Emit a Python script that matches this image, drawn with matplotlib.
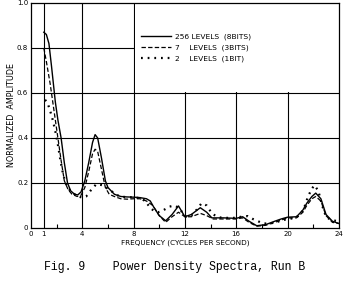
import matplotlib
matplotlib.use("Agg")
import matplotlib.pyplot as plt
from matplotlib.patches import Rectangle

# 256 levels (8 bits)
f256 = [1.0, 1.2, 1.4, 1.6, 1.9, 2.1, 2.35, 2.6, 2.85, 3.1, 3.4, 3.65, 3.9, 4.2, 4.5,
        4.8, 5.0, 5.2, 5.5, 5.8, 6.0, 6.5, 7.0, 7.5, 8.0, 8.5, 9.0, 9.3, 9.6, 10.0,
        10.5, 11.0, 11.5, 12.0, 12.5, 13.2, 13.7, 14.1, 15.0, 16.0, 16.5, 17.0, 17.6,
        18.3, 19.0, 19.5, 20.0, 20.7, 21.2, 21.5, 21.9, 22.2, 22.6, 23.0, 23.5, 24.0]
a256 = [0.87, 0.86, 0.82, 0.72, 0.56, 0.48, 0.40, 0.29, 0.20, 0.165, 0.15, 0.147,
        0.16, 0.21, 0.29, 0.38, 0.415, 0.40, 0.31, 0.21, 0.18, 0.15, 0.14, 0.138,
        0.137, 0.135, 0.13, 0.12, 0.09, 0.055, 0.032, 0.06, 0.098, 0.05, 0.06, 0.09,
        0.07, 0.045, 0.045, 0.043, 0.05, 0.03, 0.01, 0.015, 0.03, 0.04, 0.048, 0.05,
        0.08, 0.11, 0.14, 0.155, 0.13, 0.06, 0.03, 0.02]

# 7 levels (3 bits)
f7 = [1.0, 1.2, 1.5, 1.8, 2.1, 2.35, 2.6, 2.9, 3.2, 3.6, 3.9, 4.2, 4.5, 4.8, 5.0,
      5.2, 5.5, 5.8, 6.1, 6.5, 7.0, 7.5, 8.0, 8.5, 9.0, 9.5, 10.0, 10.5, 11.0, 11.5,
      12.0, 12.5, 13.2, 13.7, 14.2, 15.0, 16.0, 16.5, 17.0, 17.6, 18.3, 19.0, 19.5,
      20.0, 20.7, 21.2, 21.5, 21.9, 22.2, 22.6, 23.0, 23.5, 24.0]
a7 = [0.80, 0.74, 0.64, 0.52, 0.40, 0.30, 0.21, 0.17, 0.15, 0.14, 0.145, 0.18, 0.25,
      0.33, 0.35, 0.34, 0.26, 0.18, 0.15, 0.14, 0.13, 0.128, 0.13, 0.13, 0.12, 0.10,
      0.055, 0.025, 0.05, 0.07, 0.05, 0.05, 0.065, 0.055, 0.04, 0.04, 0.04, 0.045,
      0.025, 0.008, 0.012, 0.025, 0.035, 0.045, 0.045, 0.07, 0.10, 0.13, 0.14, 0.12,
      0.055, 0.025, 0.02]

# 2 levels (1 bit)
f2 = [1.1, 1.3, 1.5, 1.7, 1.9, 2.1, 2.3, 2.5, 2.7, 2.9, 3.1, 3.4, 3.7, 4.0, 4.3, 4.7,
      5.1, 5.6, 6.1, 6.5, 6.9, 7.3, 7.7, 8.1, 8.5, 8.9, 9.3, 9.6, 9.9, 10.2, 10.5,
      10.8, 11.2, 11.5, 11.8, 12.1, 12.5, 12.9, 13.3, 13.7, 14.1, 14.5, 14.9, 15.4,
      15.9, 16.4, 16.9, 17.3, 17.7, 18.1, 18.6, 19.1, 19.6, 20.1, 20.6, 21.0, 21.3,
      21.6, 21.9, 22.1, 22.4, 22.7, 23.0, 23.4, 24.0]
a2 = [0.57, 0.555, 0.52, 0.48, 0.43, 0.37, 0.30, 0.24, 0.20, 0.175, 0.165, 0.15, 0.14,
      0.135, 0.14, 0.17, 0.195, 0.19, 0.17, 0.155, 0.14, 0.138, 0.137, 0.135, 0.133,
      0.12, 0.09, 0.075, 0.07, 0.075, 0.085, 0.095, 0.10, 0.09, 0.07, 0.05, 0.055,
      0.08, 0.11, 0.10, 0.065, 0.05, 0.045, 0.045, 0.045, 0.05, 0.053, 0.04, 0.03,
      0.02, 0.02, 0.025, 0.035, 0.04, 0.045, 0.06, 0.09, 0.14, 0.175, 0.19, 0.165,
      0.10, 0.05, 0.035, 0.03]

xticks = [0, 1, 4, 8, 12, 16, 20, 24]
yticks = [0, 0.2, 0.4, 0.6, 0.8, 1.0]
ylabels = ["0", "0.2", "0.4", "0.6", "0.8", "1.0"]

fig = plt.figure(figsize=(3.44, 2.87), dpi=100)
ax = fig.add_axes([0.090, 0.2056, 0.895, 0.784])
ax.set_xlim(0, 24)
ax.set_ylim(0, 1.0)

# grid lines
for gx in [1, 4, 8, 12, 16, 20]:
    ax.axvline(gx, color="black", lw=0.8, zorder=1)
for gy in [0.2, 0.4, 0.6, 0.8]:
    ax.axhline(gy, color="black", lw=0.8, zorder=1)

# blank area for the key
ax.add_patch(Rectangle((8.1, 0.604), 16.0, 0.40, facecolor="white",
                       edgecolor="none", zorder=2))

l1, = ax.plot(f256, a256, color="black", lw=1.0, zorder=3)
l2, = ax.plot(f7, a7, color="black", lw=0.9, dashes=(3.5, 1.8), zorder=3)
l3, = ax.plot(f2, a2, color="black", lw=1.6, dashes=(0.8, 2.2), zorder=3)

leg = ax.legend([l1, l2, l3],
                ["256 LEVELS  (8BITS)", "7    LEVELS  (3BITS)", "2    LEVELS  (1BIT)"],
                loc="upper left", bbox_to_anchor=(0.345, 0.88), frameon=False,
                fontsize=5.4, handlelength=4.0, handletextpad=0.6,
                labelspacing=0.55, borderpad=0)

ax.set_xticks(xticks)
ax.set_xticklabels([str(t) for t in xticks])
ax.set_xticks([2, 6, 10, 14, 18, 22], minor=True)
ax.set_yticks(yticks)
ax.set_yticklabels(ylabels)
ax.tick_params(axis="both", which="major", length=0, labelsize=5, pad=2)
ax.tick_params(axis="x", which="minor", direction="in", length=3, width=0.8)
for s in ax.spines.values():
    s.set_linewidth(0.9)

ax.set_xlabel("FREQUENCY (CYCLES PER SECOND)", fontsize=5.2, labelpad=2)
ax.set_ylabel("NORMALIZED  AMPLITUDE", fontsize=5.8, labelpad=0.5)

fig.text(0.128, 0.07, "Fig. 9    Power Density Spectra, Run B",
         family="Liberation Mono", fontsize=8.3, va="center")

fig.savefig("out.png", dpi=100)
